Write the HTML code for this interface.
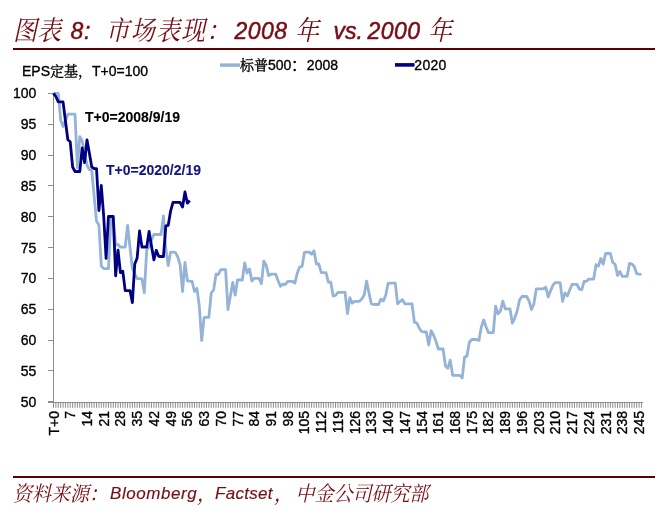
<!DOCTYPE html>
<html><head><meta charset="utf-8">
<style>
html,body{margin:0;padding:0;background:#fff;}
body{width:672px;height:524px;overflow:hidden;position:relative;}
.tt,.ss{position:absolute;white-space:nowrap;color:#780c14;font-style:italic;line-height:1;}
.tt.cj{top:17px;font-family:"Liberation Serif","Noto Serif CJK SC",serif;font-size:24px;transform:scaleY(1.13);transform-origin:0 0;}
.tt.la{top:20.3px;font-family:"Liberation Sans",sans-serif;font-size:23px;letter-spacing:0.5px;-webkit-text-stroke:0.5px #780c14;}
.ss.cj{top:482.6px;font-family:"Liberation Serif","Noto Serif CJK SC",serif;font-size:19px;transform:scaleY(1.1);transform-origin:0 0;}
.ss.la{top:484.5px;font-family:"Liberation Sans",sans-serif;font-size:17px;letter-spacing:0.3px;-webkit-text-stroke:0.15px #780c14;}
.rule{position:absolute;left:13px;width:642px;background:#5e0000;}
svg{position:absolute;left:0;top:0;}
.ax text{font-family:"Liberation Sans","Noto Sans CJK SC",sans-serif;font-size:14px;fill:#000;stroke:#000;stroke-width:0.35px;}
</style></head><body>
<div class="tt cj" style="left:13px">图表</div>
<div class="tt la" style="left:70.5px">8</div>
<div class="tt la" style="left:84px">:</div>
<div class="tt cj" style="left:105.5px;letter-spacing:1.2px">市场表现：</div>
<div class="tt la" style="left:234.5px">2008</div>
<div class="tt cj" style="left:295px">年</div>
<div class="tt la" style="left:333.5px;letter-spacing:0px">vs.</div>
<div class="tt la" style="left:367.5px">2000</div>
<div class="tt cj" style="left:428px">年</div>
<div class="rule" style="top:47.6px;height:2.4px"></div>
<div class="rule" style="top:475.7px;height:2px"></div>
<div class="ss cj" style="left:13px">资料来源：</div>
<div class="ss la" style="left:110px;letter-spacing:0.55px">Bloomberg</div>
<div class="ss cj" style="left:197px">，</div>
<div class="ss la" style="left:215px;letter-spacing:0.3px">Factset</div>
<div class="ss cj" style="left:274px">，</div>
<div class="ss cj" style="left:295.5px">中金公司研究部</div>
<svg width="672" height="524" viewBox="0 0 672 524" class="ax">
<g stroke="#8c8c8c" stroke-width="1" shape-rendering="crispEdges">
<line x1="53.5" y1="93" x2="53.5" y2="402.5"/>
<line x1="48" y1="402.5" x2="643" y2="402.5"/>
<line x1="48" y1="401.80" x2="53.5" y2="401.80"/>
<line x1="48" y1="370.95" x2="53.5" y2="370.95"/>
<line x1="48" y1="340.10" x2="53.5" y2="340.10"/>
<line x1="48" y1="309.25" x2="53.5" y2="309.25"/>
<line x1="48" y1="278.40" x2="53.5" y2="278.40"/>
<line x1="48" y1="247.55" x2="53.5" y2="247.55"/>
<line x1="48" y1="216.70" x2="53.5" y2="216.70"/>
<line x1="48" y1="185.85" x2="53.5" y2="185.85"/>
<line x1="48" y1="155.00" x2="53.5" y2="155.00"/>
<line x1="48" y1="124.15" x2="53.5" y2="124.15"/>
<line x1="48" y1="93.30" x2="53.5" y2="93.30"/>
</g>
<g stroke="#8c8c8c" stroke-width="1">
<line x1="53.50" y1="402.5" x2="53.50" y2="407.8"/>
<line x1="55.89" y1="402.5" x2="55.89" y2="407.8"/>
<line x1="58.28" y1="402.5" x2="58.28" y2="407.8"/>
<line x1="60.67" y1="402.5" x2="60.67" y2="407.8"/>
<line x1="63.06" y1="402.5" x2="63.06" y2="407.8"/>
<line x1="65.45" y1="402.5" x2="65.45" y2="407.8"/>
<line x1="67.84" y1="402.5" x2="67.84" y2="407.8"/>
<line x1="70.23" y1="402.5" x2="70.23" y2="407.8"/>
<line x1="72.62" y1="402.5" x2="72.62" y2="407.8"/>
<line x1="75.01" y1="402.5" x2="75.01" y2="407.8"/>
<line x1="77.40" y1="402.5" x2="77.40" y2="407.8"/>
<line x1="79.79" y1="402.5" x2="79.79" y2="407.8"/>
<line x1="82.18" y1="402.5" x2="82.18" y2="407.8"/>
<line x1="84.57" y1="402.5" x2="84.57" y2="407.8"/>
<line x1="86.96" y1="402.5" x2="86.96" y2="407.8"/>
<line x1="89.35" y1="402.5" x2="89.35" y2="407.8"/>
<line x1="91.74" y1="402.5" x2="91.74" y2="407.8"/>
<line x1="94.13" y1="402.5" x2="94.13" y2="407.8"/>
<line x1="96.52" y1="402.5" x2="96.52" y2="407.8"/>
<line x1="98.91" y1="402.5" x2="98.91" y2="407.8"/>
<line x1="101.30" y1="402.5" x2="101.30" y2="407.8"/>
<line x1="103.69" y1="402.5" x2="103.69" y2="407.8"/>
<line x1="106.08" y1="402.5" x2="106.08" y2="407.8"/>
<line x1="108.47" y1="402.5" x2="108.47" y2="407.8"/>
<line x1="110.86" y1="402.5" x2="110.86" y2="407.8"/>
<line x1="113.25" y1="402.5" x2="113.25" y2="407.8"/>
<line x1="115.64" y1="402.5" x2="115.64" y2="407.8"/>
<line x1="118.03" y1="402.5" x2="118.03" y2="407.8"/>
<line x1="120.42" y1="402.5" x2="120.42" y2="407.8"/>
<line x1="122.81" y1="402.5" x2="122.81" y2="407.8"/>
<line x1="125.20" y1="402.5" x2="125.20" y2="407.8"/>
<line x1="127.59" y1="402.5" x2="127.59" y2="407.8"/>
<line x1="129.98" y1="402.5" x2="129.98" y2="407.8"/>
<line x1="132.37" y1="402.5" x2="132.37" y2="407.8"/>
<line x1="134.76" y1="402.5" x2="134.76" y2="407.8"/>
<line x1="137.15" y1="402.5" x2="137.15" y2="407.8"/>
<line x1="139.54" y1="402.5" x2="139.54" y2="407.8"/>
<line x1="141.93" y1="402.5" x2="141.93" y2="407.8"/>
<line x1="144.32" y1="402.5" x2="144.32" y2="407.8"/>
<line x1="146.71" y1="402.5" x2="146.71" y2="407.8"/>
<line x1="149.10" y1="402.5" x2="149.10" y2="407.8"/>
<line x1="151.49" y1="402.5" x2="151.49" y2="407.8"/>
<line x1="153.88" y1="402.5" x2="153.88" y2="407.8"/>
<line x1="156.27" y1="402.5" x2="156.27" y2="407.8"/>
<line x1="158.66" y1="402.5" x2="158.66" y2="407.8"/>
<line x1="161.05" y1="402.5" x2="161.05" y2="407.8"/>
<line x1="163.44" y1="402.5" x2="163.44" y2="407.8"/>
<line x1="165.83" y1="402.5" x2="165.83" y2="407.8"/>
<line x1="168.22" y1="402.5" x2="168.22" y2="407.8"/>
<line x1="170.61" y1="402.5" x2="170.61" y2="407.8"/>
<line x1="173.00" y1="402.5" x2="173.00" y2="407.8"/>
<line x1="175.39" y1="402.5" x2="175.39" y2="407.8"/>
<line x1="177.78" y1="402.5" x2="177.78" y2="407.8"/>
<line x1="180.17" y1="402.5" x2="180.17" y2="407.8"/>
<line x1="182.56" y1="402.5" x2="182.56" y2="407.8"/>
<line x1="184.95" y1="402.5" x2="184.95" y2="407.8"/>
<line x1="187.34" y1="402.5" x2="187.34" y2="407.8"/>
<line x1="189.73" y1="402.5" x2="189.73" y2="407.8"/>
<line x1="192.12" y1="402.5" x2="192.12" y2="407.8"/>
<line x1="194.51" y1="402.5" x2="194.51" y2="407.8"/>
<line x1="196.90" y1="402.5" x2="196.90" y2="407.8"/>
<line x1="199.29" y1="402.5" x2="199.29" y2="407.8"/>
<line x1="201.68" y1="402.5" x2="201.68" y2="407.8"/>
<line x1="204.07" y1="402.5" x2="204.07" y2="407.8"/>
<line x1="206.46" y1="402.5" x2="206.46" y2="407.8"/>
<line x1="208.85" y1="402.5" x2="208.85" y2="407.8"/>
<line x1="211.24" y1="402.5" x2="211.24" y2="407.8"/>
<line x1="213.63" y1="402.5" x2="213.63" y2="407.8"/>
<line x1="216.02" y1="402.5" x2="216.02" y2="407.8"/>
<line x1="218.41" y1="402.5" x2="218.41" y2="407.8"/>
<line x1="220.80" y1="402.5" x2="220.80" y2="407.8"/>
<line x1="223.19" y1="402.5" x2="223.19" y2="407.8"/>
<line x1="225.58" y1="402.5" x2="225.58" y2="407.8"/>
<line x1="227.97" y1="402.5" x2="227.97" y2="407.8"/>
<line x1="230.36" y1="402.5" x2="230.36" y2="407.8"/>
<line x1="232.75" y1="402.5" x2="232.75" y2="407.8"/>
<line x1="235.14" y1="402.5" x2="235.14" y2="407.8"/>
<line x1="237.53" y1="402.5" x2="237.53" y2="407.8"/>
<line x1="239.92" y1="402.5" x2="239.92" y2="407.8"/>
<line x1="242.31" y1="402.5" x2="242.31" y2="407.8"/>
<line x1="244.70" y1="402.5" x2="244.70" y2="407.8"/>
<line x1="247.09" y1="402.5" x2="247.09" y2="407.8"/>
<line x1="249.48" y1="402.5" x2="249.48" y2="407.8"/>
<line x1="251.87" y1="402.5" x2="251.87" y2="407.8"/>
<line x1="254.26" y1="402.5" x2="254.26" y2="407.8"/>
<line x1="256.65" y1="402.5" x2="256.65" y2="407.8"/>
<line x1="259.04" y1="402.5" x2="259.04" y2="407.8"/>
<line x1="261.43" y1="402.5" x2="261.43" y2="407.8"/>
<line x1="263.82" y1="402.5" x2="263.82" y2="407.8"/>
<line x1="266.21" y1="402.5" x2="266.21" y2="407.8"/>
<line x1="268.60" y1="402.5" x2="268.60" y2="407.8"/>
<line x1="270.99" y1="402.5" x2="270.99" y2="407.8"/>
<line x1="273.38" y1="402.5" x2="273.38" y2="407.8"/>
<line x1="275.77" y1="402.5" x2="275.77" y2="407.8"/>
<line x1="278.16" y1="402.5" x2="278.16" y2="407.8"/>
<line x1="280.55" y1="402.5" x2="280.55" y2="407.8"/>
<line x1="282.94" y1="402.5" x2="282.94" y2="407.8"/>
<line x1="285.33" y1="402.5" x2="285.33" y2="407.8"/>
<line x1="287.72" y1="402.5" x2="287.72" y2="407.8"/>
<line x1="290.11" y1="402.5" x2="290.11" y2="407.8"/>
<line x1="292.50" y1="402.5" x2="292.50" y2="407.8"/>
<line x1="294.89" y1="402.5" x2="294.89" y2="407.8"/>
<line x1="297.28" y1="402.5" x2="297.28" y2="407.8"/>
<line x1="299.67" y1="402.5" x2="299.67" y2="407.8"/>
<line x1="302.06" y1="402.5" x2="302.06" y2="407.8"/>
<line x1="304.45" y1="402.5" x2="304.45" y2="407.8"/>
<line x1="306.84" y1="402.5" x2="306.84" y2="407.8"/>
<line x1="309.23" y1="402.5" x2="309.23" y2="407.8"/>
<line x1="311.62" y1="402.5" x2="311.62" y2="407.8"/>
<line x1="314.01" y1="402.5" x2="314.01" y2="407.8"/>
<line x1="316.40" y1="402.5" x2="316.40" y2="407.8"/>
<line x1="318.79" y1="402.5" x2="318.79" y2="407.8"/>
<line x1="321.18" y1="402.5" x2="321.18" y2="407.8"/>
<line x1="323.57" y1="402.5" x2="323.57" y2="407.8"/>
<line x1="325.96" y1="402.5" x2="325.96" y2="407.8"/>
<line x1="328.35" y1="402.5" x2="328.35" y2="407.8"/>
<line x1="330.74" y1="402.5" x2="330.74" y2="407.8"/>
<line x1="333.13" y1="402.5" x2="333.13" y2="407.8"/>
<line x1="335.52" y1="402.5" x2="335.52" y2="407.8"/>
<line x1="337.91" y1="402.5" x2="337.91" y2="407.8"/>
<line x1="340.30" y1="402.5" x2="340.30" y2="407.8"/>
<line x1="342.69" y1="402.5" x2="342.69" y2="407.8"/>
<line x1="345.08" y1="402.5" x2="345.08" y2="407.8"/>
<line x1="347.47" y1="402.5" x2="347.47" y2="407.8"/>
<line x1="349.86" y1="402.5" x2="349.86" y2="407.8"/>
<line x1="352.25" y1="402.5" x2="352.25" y2="407.8"/>
<line x1="354.64" y1="402.5" x2="354.64" y2="407.8"/>
<line x1="357.03" y1="402.5" x2="357.03" y2="407.8"/>
<line x1="359.42" y1="402.5" x2="359.42" y2="407.8"/>
<line x1="361.81" y1="402.5" x2="361.81" y2="407.8"/>
<line x1="364.20" y1="402.5" x2="364.20" y2="407.8"/>
<line x1="366.59" y1="402.5" x2="366.59" y2="407.8"/>
<line x1="368.98" y1="402.5" x2="368.98" y2="407.8"/>
<line x1="371.37" y1="402.5" x2="371.37" y2="407.8"/>
<line x1="373.76" y1="402.5" x2="373.76" y2="407.8"/>
<line x1="376.15" y1="402.5" x2="376.15" y2="407.8"/>
<line x1="378.54" y1="402.5" x2="378.54" y2="407.8"/>
<line x1="380.93" y1="402.5" x2="380.93" y2="407.8"/>
<line x1="383.32" y1="402.5" x2="383.32" y2="407.8"/>
<line x1="385.71" y1="402.5" x2="385.71" y2="407.8"/>
<line x1="388.10" y1="402.5" x2="388.10" y2="407.8"/>
<line x1="390.49" y1="402.5" x2="390.49" y2="407.8"/>
<line x1="392.88" y1="402.5" x2="392.88" y2="407.8"/>
<line x1="395.27" y1="402.5" x2="395.27" y2="407.8"/>
<line x1="397.66" y1="402.5" x2="397.66" y2="407.8"/>
<line x1="400.05" y1="402.5" x2="400.05" y2="407.8"/>
<line x1="402.44" y1="402.5" x2="402.44" y2="407.8"/>
<line x1="404.83" y1="402.5" x2="404.83" y2="407.8"/>
<line x1="407.22" y1="402.5" x2="407.22" y2="407.8"/>
<line x1="409.61" y1="402.5" x2="409.61" y2="407.8"/>
<line x1="412.00" y1="402.5" x2="412.00" y2="407.8"/>
<line x1="414.39" y1="402.5" x2="414.39" y2="407.8"/>
<line x1="416.78" y1="402.5" x2="416.78" y2="407.8"/>
<line x1="419.17" y1="402.5" x2="419.17" y2="407.8"/>
<line x1="421.56" y1="402.5" x2="421.56" y2="407.8"/>
<line x1="423.95" y1="402.5" x2="423.95" y2="407.8"/>
<line x1="426.34" y1="402.5" x2="426.34" y2="407.8"/>
<line x1="428.73" y1="402.5" x2="428.73" y2="407.8"/>
<line x1="431.12" y1="402.5" x2="431.12" y2="407.8"/>
<line x1="433.51" y1="402.5" x2="433.51" y2="407.8"/>
<line x1="435.90" y1="402.5" x2="435.90" y2="407.8"/>
<line x1="438.29" y1="402.5" x2="438.29" y2="407.8"/>
<line x1="440.68" y1="402.5" x2="440.68" y2="407.8"/>
<line x1="443.07" y1="402.5" x2="443.07" y2="407.8"/>
<line x1="445.46" y1="402.5" x2="445.46" y2="407.8"/>
<line x1="447.85" y1="402.5" x2="447.85" y2="407.8"/>
<line x1="450.24" y1="402.5" x2="450.24" y2="407.8"/>
<line x1="452.63" y1="402.5" x2="452.63" y2="407.8"/>
<line x1="455.02" y1="402.5" x2="455.02" y2="407.8"/>
<line x1="457.41" y1="402.5" x2="457.41" y2="407.8"/>
<line x1="459.80" y1="402.5" x2="459.80" y2="407.8"/>
<line x1="462.19" y1="402.5" x2="462.19" y2="407.8"/>
<line x1="464.58" y1="402.5" x2="464.58" y2="407.8"/>
<line x1="466.97" y1="402.5" x2="466.97" y2="407.8"/>
<line x1="469.36" y1="402.5" x2="469.36" y2="407.8"/>
<line x1="471.75" y1="402.5" x2="471.75" y2="407.8"/>
<line x1="474.14" y1="402.5" x2="474.14" y2="407.8"/>
<line x1="476.53" y1="402.5" x2="476.53" y2="407.8"/>
<line x1="478.92" y1="402.5" x2="478.92" y2="407.8"/>
<line x1="481.31" y1="402.5" x2="481.31" y2="407.8"/>
<line x1="483.70" y1="402.5" x2="483.70" y2="407.8"/>
<line x1="486.09" y1="402.5" x2="486.09" y2="407.8"/>
<line x1="488.48" y1="402.5" x2="488.48" y2="407.8"/>
<line x1="490.87" y1="402.5" x2="490.87" y2="407.8"/>
<line x1="493.26" y1="402.5" x2="493.26" y2="407.8"/>
<line x1="495.65" y1="402.5" x2="495.65" y2="407.8"/>
<line x1="498.04" y1="402.5" x2="498.04" y2="407.8"/>
<line x1="500.43" y1="402.5" x2="500.43" y2="407.8"/>
<line x1="502.82" y1="402.5" x2="502.82" y2="407.8"/>
<line x1="505.21" y1="402.5" x2="505.21" y2="407.8"/>
<line x1="507.60" y1="402.5" x2="507.60" y2="407.8"/>
<line x1="509.99" y1="402.5" x2="509.99" y2="407.8"/>
<line x1="512.38" y1="402.5" x2="512.38" y2="407.8"/>
<line x1="514.77" y1="402.5" x2="514.77" y2="407.8"/>
<line x1="517.16" y1="402.5" x2="517.16" y2="407.8"/>
<line x1="519.55" y1="402.5" x2="519.55" y2="407.8"/>
<line x1="521.94" y1="402.5" x2="521.94" y2="407.8"/>
<line x1="524.33" y1="402.5" x2="524.33" y2="407.8"/>
<line x1="526.72" y1="402.5" x2="526.72" y2="407.8"/>
<line x1="529.11" y1="402.5" x2="529.11" y2="407.8"/>
<line x1="531.50" y1="402.5" x2="531.50" y2="407.8"/>
<line x1="533.89" y1="402.5" x2="533.89" y2="407.8"/>
<line x1="536.28" y1="402.5" x2="536.28" y2="407.8"/>
<line x1="538.67" y1="402.5" x2="538.67" y2="407.8"/>
<line x1="541.06" y1="402.5" x2="541.06" y2="407.8"/>
<line x1="543.45" y1="402.5" x2="543.45" y2="407.8"/>
<line x1="545.84" y1="402.5" x2="545.84" y2="407.8"/>
<line x1="548.23" y1="402.5" x2="548.23" y2="407.8"/>
<line x1="550.62" y1="402.5" x2="550.62" y2="407.8"/>
<line x1="553.01" y1="402.5" x2="553.01" y2="407.8"/>
<line x1="555.40" y1="402.5" x2="555.40" y2="407.8"/>
<line x1="557.79" y1="402.5" x2="557.79" y2="407.8"/>
<line x1="560.18" y1="402.5" x2="560.18" y2="407.8"/>
<line x1="562.57" y1="402.5" x2="562.57" y2="407.8"/>
<line x1="564.96" y1="402.5" x2="564.96" y2="407.8"/>
<line x1="567.35" y1="402.5" x2="567.35" y2="407.8"/>
<line x1="569.74" y1="402.5" x2="569.74" y2="407.8"/>
<line x1="572.13" y1="402.5" x2="572.13" y2="407.8"/>
<line x1="574.52" y1="402.5" x2="574.52" y2="407.8"/>
<line x1="576.91" y1="402.5" x2="576.91" y2="407.8"/>
<line x1="579.30" y1="402.5" x2="579.30" y2="407.8"/>
<line x1="581.69" y1="402.5" x2="581.69" y2="407.8"/>
<line x1="584.08" y1="402.5" x2="584.08" y2="407.8"/>
<line x1="586.47" y1="402.5" x2="586.47" y2="407.8"/>
<line x1="588.86" y1="402.5" x2="588.86" y2="407.8"/>
<line x1="591.25" y1="402.5" x2="591.25" y2="407.8"/>
<line x1="593.64" y1="402.5" x2="593.64" y2="407.8"/>
<line x1="596.03" y1="402.5" x2="596.03" y2="407.8"/>
<line x1="598.42" y1="402.5" x2="598.42" y2="407.8"/>
<line x1="600.81" y1="402.5" x2="600.81" y2="407.8"/>
<line x1="603.20" y1="402.5" x2="603.20" y2="407.8"/>
<line x1="605.59" y1="402.5" x2="605.59" y2="407.8"/>
<line x1="607.98" y1="402.5" x2="607.98" y2="407.8"/>
<line x1="610.37" y1="402.5" x2="610.37" y2="407.8"/>
<line x1="612.76" y1="402.5" x2="612.76" y2="407.8"/>
<line x1="615.15" y1="402.5" x2="615.15" y2="407.8"/>
<line x1="617.54" y1="402.5" x2="617.54" y2="407.8"/>
<line x1="619.93" y1="402.5" x2="619.93" y2="407.8"/>
<line x1="622.32" y1="402.5" x2="622.32" y2="407.8"/>
<line x1="624.71" y1="402.5" x2="624.71" y2="407.8"/>
<line x1="627.10" y1="402.5" x2="627.10" y2="407.8"/>
<line x1="629.49" y1="402.5" x2="629.49" y2="407.8"/>
<line x1="631.88" y1="402.5" x2="631.88" y2="407.8"/>
<line x1="634.27" y1="402.5" x2="634.27" y2="407.8"/>
<line x1="636.66" y1="402.5" x2="636.66" y2="407.8"/>
<line x1="639.05" y1="402.5" x2="639.05" y2="407.8"/>
<line x1="641.44" y1="402.5" x2="641.44" y2="407.8"/>
</g>
<text x="22" y="76.2">EPS<tspan font-family="Noto Serif CJK SC">定基，</tspan>T+0=100</text>
<text x="36.4" y="406.80" text-anchor="end">50</text>
<text x="36.4" y="375.95" text-anchor="end">55</text>
<text x="36.4" y="345.10" text-anchor="end">60</text>
<text x="36.4" y="314.25" text-anchor="end">65</text>
<text x="36.4" y="283.40" text-anchor="end">70</text>
<text x="36.4" y="252.55" text-anchor="end">75</text>
<text x="36.4" y="221.70" text-anchor="end">80</text>
<text x="36.4" y="190.85" text-anchor="end">85</text>
<text x="36.4" y="160.00" text-anchor="end">90</text>
<text x="36.4" y="129.15" text-anchor="end">95</text>
<text x="36.4" y="98.30" text-anchor="end">100</text>
<text transform="translate(58.50,411) rotate(-90)" text-anchor="end">T+0</text>
<text transform="translate(75.23,411) rotate(-90)" text-anchor="end">7</text>
<text transform="translate(91.96,411) rotate(-90)" text-anchor="end">14</text>
<text transform="translate(108.69,411) rotate(-90)" text-anchor="end">21</text>
<text transform="translate(125.42,411) rotate(-90)" text-anchor="end">28</text>
<text transform="translate(142.15,411) rotate(-90)" text-anchor="end">35</text>
<text transform="translate(158.88,411) rotate(-90)" text-anchor="end">42</text>
<text transform="translate(175.61,411) rotate(-90)" text-anchor="end">49</text>
<text transform="translate(192.34,411) rotate(-90)" text-anchor="end">56</text>
<text transform="translate(209.07,411) rotate(-90)" text-anchor="end">63</text>
<text transform="translate(225.80,411) rotate(-90)" text-anchor="end">70</text>
<text transform="translate(242.53,411) rotate(-90)" text-anchor="end">77</text>
<text transform="translate(259.26,411) rotate(-90)" text-anchor="end">84</text>
<text transform="translate(275.99,411) rotate(-90)" text-anchor="end">91</text>
<text transform="translate(292.72,411) rotate(-90)" text-anchor="end">98</text>
<text transform="translate(309.45,411) rotate(-90)" text-anchor="end">105</text>
<text transform="translate(326.18,411) rotate(-90)" text-anchor="end">112</text>
<text transform="translate(342.91,411) rotate(-90)" text-anchor="end">119</text>
<text transform="translate(359.64,411) rotate(-90)" text-anchor="end">126</text>
<text transform="translate(376.37,411) rotate(-90)" text-anchor="end">133</text>
<text transform="translate(393.10,411) rotate(-90)" text-anchor="end">140</text>
<text transform="translate(409.83,411) rotate(-90)" text-anchor="end">147</text>
<text transform="translate(426.56,411) rotate(-90)" text-anchor="end">154</text>
<text transform="translate(443.29,411) rotate(-90)" text-anchor="end">161</text>
<text transform="translate(460.02,411) rotate(-90)" text-anchor="end">168</text>
<text transform="translate(476.75,411) rotate(-90)" text-anchor="end">175</text>
<text transform="translate(493.48,411) rotate(-90)" text-anchor="end">182</text>
<text transform="translate(510.21,411) rotate(-90)" text-anchor="end">189</text>
<text transform="translate(526.94,411) rotate(-90)" text-anchor="end">196</text>
<text transform="translate(543.67,411) rotate(-90)" text-anchor="end">203</text>
<text transform="translate(560.40,411) rotate(-90)" text-anchor="end">210</text>
<text transform="translate(577.13,411) rotate(-90)" text-anchor="end">217</text>
<text transform="translate(593.86,411) rotate(-90)" text-anchor="end">224</text>
<text transform="translate(610.59,411) rotate(-90)" text-anchor="end">231</text>
<text transform="translate(627.32,411) rotate(-90)" text-anchor="end">238</text>
<text transform="translate(644.05,411) rotate(-90)" text-anchor="end">245</text>
<line x1="220" y1="65.1" x2="240" y2="65.1" stroke="#95b3d7" stroke-width="3.4"/>
<text x="240" y="69.8"><tspan font-family="Noto Serif CJK SC">标普</tspan>500：<tspan dx="1.5">2008</tspan></text>
<line x1="395" y1="64.9" x2="414.5" y2="64.9" stroke="#000080" stroke-width="3.6"/>
<text x="414.3" y="69.8" style="letter-spacing:0.3px">2020</text>
<polyline fill="none" stroke="#95b3d7" stroke-width="2.8" stroke-linejoin="round" points="53.50,93.30 55.89,93.30 58.28,93.30 60.67,120.00 63.06,126.50 65.45,120.50 67.84,114.20 70.23,114.20 72.62,114.20 75.01,114.20 77.40,167.60 79.79,136.70 82.18,141.00 84.57,152.00 86.96,165.00 89.35,169.50 91.74,170.50 94.13,196.00 96.52,221.00 98.91,225.00 101.30,266.00 103.69,268.60 106.08,268.60 108.47,268.60 110.86,217.60 113.25,218.00 115.64,245.00 118.03,244.50 120.42,247.20 122.81,247.20 125.20,247.00 127.59,225.50 129.98,247.00 132.37,268.60 134.76,274.00 137.15,278.60 139.54,278.60 141.93,279.00 144.32,292.70 146.71,250.00 149.10,247.00 151.49,240.00 153.88,234.50 156.27,234.50 158.66,234.50 161.05,234.50 163.44,216.00 165.83,249.00 168.22,265.60 170.61,252.20 173.00,252.20 175.39,252.40 177.78,257.00 180.17,265.00 182.56,291.50 184.95,262.30 187.34,280.80 189.73,281.20 192.12,281.50 194.51,291.50 196.90,288.30 199.29,306.00 201.68,340.50 204.07,317.60 206.46,317.30 208.85,317.30 211.24,293.00 213.63,290.00 216.02,274.10 218.41,274.50 220.80,269.60 223.19,269.60 225.58,269.60 227.97,309.60 230.36,296.00 232.75,282.50 235.14,295.20 237.53,280.00 239.92,280.00 242.31,280.00 244.70,263.00 247.09,273.00 249.48,269.00 251.87,281.00 254.26,278.30 256.65,278.30 259.04,278.30 261.43,283.60 263.82,261.20 266.21,265.20 268.60,275.60 270.99,274.20 273.38,274.20 275.77,274.20 278.16,281.00 280.55,286.30 282.94,284.10 285.33,284.50 287.72,281.40 290.11,281.40 292.50,281.40 294.89,283.20 297.28,273.00 299.67,267.00 302.06,266.50 304.45,252.40 306.84,252.10 309.23,252.10 311.62,254.30 314.01,250.80 316.40,264.00 318.79,263.80 321.18,272.50 323.57,272.70 325.96,272.70 328.35,282.20 330.74,282.20 333.13,296.00 335.52,295.50 337.91,292.40 340.30,292.40 342.69,292.40 345.08,292.40 347.47,313.50 349.86,297.70 352.25,303.10 354.64,301.30 357.03,301.30 359.42,301.30 361.81,299.00 364.20,295.00 366.59,281.10 368.98,293.00 371.37,304.00 373.76,304.50 376.15,304.50 378.54,304.50 380.93,299.10 383.32,301.00 385.71,295.20 388.10,283.50 390.49,283.10 392.88,283.10 395.27,283.10 397.66,303.80 400.05,301.50 402.44,299.70 404.83,303.80 407.22,303.80 409.61,303.80 412.00,303.80 414.39,322.20 416.78,323.00 419.17,328.00 421.56,331.50 423.95,332.00 426.34,332.00 428.73,345.00 431.12,330.60 433.51,335.00 435.90,341.00 438.29,349.00 440.68,349.00 443.07,349.00 445.46,366.00 447.85,368.20 450.24,360.10 452.63,375.40 455.02,375.40 457.41,375.40 459.80,375.40 462.19,378.00 464.58,357.00 466.97,356.10 469.36,342.20 471.75,339.50 474.14,339.50 476.53,339.50 478.92,340.40 481.31,327.00 483.70,320.00 486.09,327.00 488.48,332.60 490.87,332.60 493.26,332.60 495.65,306.10 498.04,313.80 500.43,311.10 502.82,301.20 505.21,308.80 507.60,308.80 509.99,308.80 512.38,323.20 514.77,318.00 517.16,311.00 519.55,300.00 521.94,296.50 524.33,296.50 526.72,296.50 529.11,301.00 531.50,309.50 533.89,304.00 536.28,289.00 538.67,288.80 541.06,288.80 543.45,288.80 545.84,287.30 548.23,297.00 550.62,290.60 553.01,285.00 555.40,282.60 557.79,282.60 560.18,282.60 562.57,301.40 564.96,293.00 567.35,296.00 569.74,290.00 572.13,284.30 574.52,284.30 576.91,284.30 579.30,289.00 581.69,289.80 584.08,281.30 586.47,281.30 588.86,279.10 591.25,279.10 593.64,279.10 596.03,264.70 598.42,266.10 600.81,258.50 603.20,264.30 605.59,253.50 607.98,253.50 610.37,253.50 612.76,262.50 615.15,264.30 617.54,275.50 619.93,271.50 622.32,276.40 624.71,276.40 627.10,276.40 629.49,263.40 631.88,264.00 634.27,266.50 636.66,273.70 639.05,274.20 641.44,274.40"/>
<polyline fill="none" stroke="#000080" stroke-width="2.8" stroke-linejoin="round" points="53.50,93.30 55.89,96.50 58.28,101.90 60.67,101.90 63.06,101.90 65.45,121.00 67.84,139.80 70.23,141.80 72.62,167.00 75.01,171.50 77.40,171.50 79.79,171.50 82.18,147.80 84.57,162.60 86.96,139.80 89.35,153.00 91.74,167.00 94.13,168.50 96.52,168.70 98.91,210.50 101.30,185.50 103.69,216.00 106.08,258.30 108.47,216.50 110.86,216.50 113.25,216.50 115.64,275.80 118.03,250.20 120.42,272.70 122.81,271.30 125.20,290.60 127.59,290.60 129.98,290.60 132.37,302.70 134.76,264.00 137.15,258.00 139.54,231.00 141.93,247.00 144.32,247.00 146.71,247.00 149.10,231.50 151.49,246.00 153.88,259.80 156.27,250.40 158.66,256.30 161.05,256.50 163.44,256.70 165.83,225.80 168.22,225.30 170.61,211.00 173.00,202.30 175.39,202.30 177.78,202.40 180.17,202.50 182.56,207.10 184.95,191.90 187.34,203.20 189.73,200.50"/>
<text x="85" y="121.5" font-weight="bold" style="stroke:#000;stroke-width:0.1px">T+0=2008/9/19</text>
<text x="106" y="174.6" font-weight="bold" style="fill:#141480;stroke:#141480;stroke-width:0.1px">T+0=2020/2/19</text>
</svg>
</body></html>
